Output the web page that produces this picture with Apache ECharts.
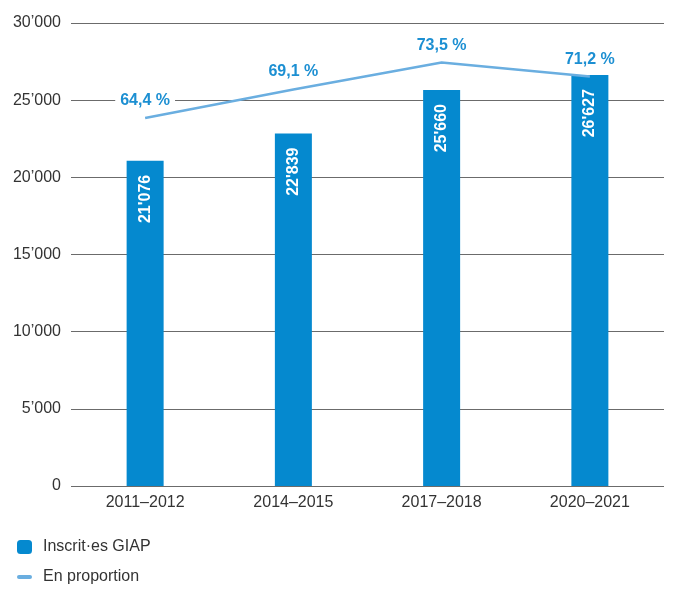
<!DOCTYPE html>
<html>
<head>
<meta charset="utf-8">
<script src="https://cdn.jsdelivr.net/npm/echarts@6/dist/echarts.min.js"></script>
<style>
  html, body { margin: 0; padding: 0; background: #ffffff; }
  #chart { width: 673px; height: 589px; }
</style>
</head>
<body>
<div id="chart"></div>
<script>
// School years shown on the x axis
const categories = ['2011–2012', '2014–2015', '2017–2018', '2020–2021'];
// Number of enrolled students (bars)
const enrolled = [21076, 22839, 25660, 26627];
// Share of students, in percent (line)
const share = [64.4, 69.1, 73.5, 71.2];
// Left axis range
const yMin = 0, yMax = 30000, yStep = 5000;

const FONT = '"Liberation Sans", Arial, sans-serif';
const BAR_COLOR = '#0589cf';
const LINE_COLOR = '#6aaee0';
const PCT_COLOR = '#1c8fd2';

function groupThousands(v, sep) {
  return String(Math.round(v)).replace(/\B(?=(\d{3})+(?!\d))/g, sep);
}

const chart = echarts.init(document.getElementById('chart'), null, { renderer: 'canvas' });

chart.setOption({
  animation: false,
  textStyle: { fontFamily: FONT },
  grid: { left: 71, right: 9, top: 23, bottom: 103, containLabel: false },
  legend: {
    orient: 'vertical',
    left: 12,
    top: 534,
    height: 80,
    itemWidth: 15,
    itemHeight: 14,
    itemGap: 14,
    symbolKeepAspect: true,
    textStyle: { fontFamily: FONT, fontSize: 16, color: '#333333', padding: [0, 0, 0, 6] },
    data: [
      { name: 'Inscrit·es GIAP', icon: 'roundRect', itemStyle: { color: BAR_COLOR, opacity: 1 } },
      {
        name: 'En proportion',
        icon: 'path://M2,0 H13 A2,2 0 0 1 13,4 H2 A2,2 0 0 1 2,0 Z',
        itemStyle: { color: LINE_COLOR, opacity: 1 }
      }
    ]
  },
  xAxis: {
    type: 'category',
    data: categories,
    axisLine: { show: false },
    axisTick: { show: false },
    axisLabel: { fontFamily: FONT, fontSize: 16, color: '#333333', margin: 9 }
  },
  yAxis: [
    {
      type: 'value',
      min: yMin,
      max: yMax,
      interval: yStep,
      axisLine: { show: false },
      axisTick: { show: false },
      splitLine: { show: true, lineStyle: { color: '#6b6b6b', width: 1.2 } },
      axisLabel: {
        fontFamily: FONT, fontSize: 16, color: '#333333', margin: 10,
        formatter: v => groupThousands(v, '’')
      }
    },
    {
      type: 'value',
      min: 4,
      max: 80,
      show: false,
      splitLine: { show: false }
    }
  ],
  series: [
    {
      name: 'Inscrit·es GIAP',
      type: 'bar',
      data: enrolled,
      barWidth: 37,
      itemStyle: { color: BAR_COLOR },
      label: {
        show: true,
        position: 'insideTop',
        distance: 14,
        rotate: 90,
        align: 'right',
        verticalAlign: 'middle',
        color: '#ffffff',
        fontFamily: FONT,
        fontWeight: 'bold',
        fontSize: 16,
        formatter: p => groupThousands(p.value, "'")
      },
      z: 2
    },
    {
      name: 'En proportion',
      type: 'line',
      yAxisIndex: 1,
      data: share,
      symbol: 'circle',
      symbolSize: 1,
      showSymbol: true,
      lineStyle: { color: LINE_COLOR, width: 2.5 },
      itemStyle: { color: 'rgba(0,0,0,0)', borderWidth: 0 },
      label: {
        show: true,
        position: 'top',
        distance: 8,
        color: PCT_COLOR,
        fontFamily: FONT,
        fontWeight: 'bold',
        fontSize: 16,
        backgroundColor: '#ffffff',
        padding: [1, 5],
        formatter: p => p.value.toFixed(1).replace('.', ',') + ' %'
      },
      z: 3
    }
  ]
});
</script>
</body>
</html>
